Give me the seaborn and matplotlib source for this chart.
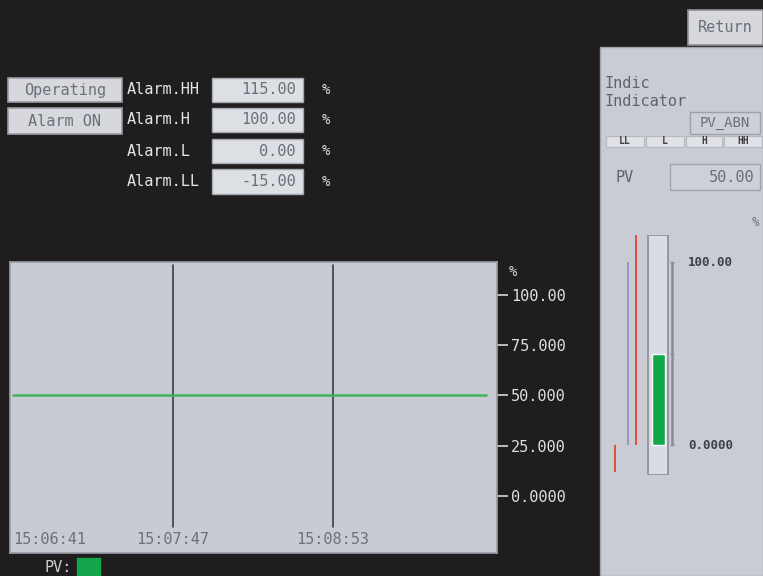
import matplotlib
matplotlib.use("Agg")
import matplotlib.pyplot as plt
from matplotlib.patches import Rectangle
import seaborn as sns
import pandas as pd

# ---------------- data ----------------
alarm_names = ["Alarm.HH", "Alarm.H", "Alarm.L", "Alarm.LL"]
alarm_values = [115.0, 100.0, 0.0, -15.0]
status_buttons = ["Operating", "Alarm ON"]
pv_value = 50.0

time_labels = ["15:06:41", "15:07:47", "15:08:53"]
pv_times = ["15:06:41", "15:07:14", "15:07:47", "15:08:20", "15:08:53", "15:09:26", "15:09:56"]
pv_values = [50.0, 50.0, 50.0, 50.0, 50.0, 50.0, 50.0]
y_ticks = [0, 25, 50, 75, 100]
y_tick_labels = ["0.0000", "25.000", "50.000", "75.000", "100.00"]
level_cells = ["LL", "L", "H", "HH"]

# ---------------- style ----------------
sns.set_theme(style="white")
plt.rcParams["font.family"] = ["DejaVu Sans Mono", "DejaVu Sans"]

W, H = 763, 576
BG = "#1f1d1e"
PANEL = "#c9ccd4"
BTN = "#d6d8dd"
GRAYTXT = "#6c6f77"
GREEN = "#14a64a"

fig = plt.figure(figsize=(W / 100, H / 100), dpi=100, facecolor=BG)


def box(x0, y0, x1, y1, fc, ec=None, lw=1.0, z=1):
    fig.add_artist(Rectangle((x0 / W, 1 - y1 / H), (x1 - x0) / W, (y1 - y0) / H,
                             transform=fig.transFigure, facecolor=fc,
                             edgecolor=ec if ec else fc, lw=lw, zorder=z))


def txt(x, y, s, **kw):
    kw.setdefault("va", "center")
    kw.setdefault("fontsize", 11)
    fig.text(x / W, 1 - y / H, s, **kw)


# ---------------- top-left status / alarm settings ----------------
btn_rows = [(78, 102), (108, 134)]
for name, (y0, y1) in zip(status_buttons, btn_rows):
    box(8, y0, 122, y1, BTN, "#9a9ca3", 1.2)
    txt(65, (y0 + y1) / 2, name, ha="center", color=GRAYTXT)

val_rows = [(78, 102), (108, 132), (139, 163), (169, 194)]
for name, val, (y0, y1) in zip(alarm_names, alarm_values, val_rows):
    yc = (y0 + y1) / 2
    txt(127, yc, name, ha="left", color="#e6e6e6")
    box(212, y0, 303, y1, "#dcdfe4", "#a5a8ae", 1.0)
    txt(296, yc, f"{val:.2f}", ha="right", color=GRAYTXT)
    txt(326, yc, "%", ha="center", color="#e6e6e6", fontsize=10)

# ---------------- trend chart ----------------
ax = fig.add_axes([10 / W, 1 - 553 / H, 487 / W, 291 / H])
ax.set_facecolor("#c8cbd3")

t_ref = pd.to_datetime(time_labels[0], format="%H:%M:%S")
secs = [(pd.to_datetime(t, format="%H:%M:%S") - t_ref).total_seconds() for t in pv_times]
grid_secs = [(pd.to_datetime(t, format="%H:%M:%S") - t_ref).total_seconds() for t in time_labels]
df = pd.DataFrame({"t": secs, "pv": pv_values})

sns.lineplot(data=df, x="t", y="pv", ax=ax, color="#3fb25c", linewidth=1.8, legend=False)

ax.set_xlim(-1.2, 199.7)
ax.set_ylim(-28.4, 116.4)
for g in grid_secs[1:]:
    ax.axvline(g, ymin=0.09, ymax=0.99, color="#3c3c40", lw=1.2, zorder=1)

for i, (g, lab) in enumerate(zip(grid_secs, time_labels)):
    ax.text(g, 0.045, lab, transform=ax.get_xaxis_transform(),
            ha="left" if i == 0 else "center", va="center",
            color="#6d7078", fontsize=11)

ax.set_xticks([])
ax.set_xlabel("")
ax.set_ylabel("")
ax.yaxis.tick_right()
ax.set_yticks(y_ticks)
ax.set_yticklabels(y_tick_labels)
ax.tick_params(axis="y", right=True, length=8, width=1.2, color="#d8d8d8",
               labelcolor="#e0e0e0", labelsize=11, pad=2, direction="out")
for sp in ax.spines.values():
    sp.set_color("#9a9da5")
    sp.set_linewidth(1.2)
txt(513, 272, "%", ha="center", color="#e0e0e0", fontsize=10)

# legend-like label
txt(45, 567, "PV:", ha="left", color="#d0d0d0")
box(77, 558, 100, 576, GREEN)

# ---------------- right panel ----------------
box(600, 47, 763, 576, PANEL, "#9fa2a9", 1.0, z=0)
box(688, 10, 763, 45, BTN, "#8e9097", 1.2)
txt(725, 28, "Return", ha="center", color=GRAYTXT)

txt(605, 83, "Indic", ha="left", color="#5f626a")
txt(605, 102, "Indicator", ha="left", color="#5f626a")
box(690, 112, 760, 134, "#cdd0d6", "#9ea1a8", 1.0)
txt(725, 123, "PV_ABN", ha="center", color=GRAYTXT, fontsize=10)

cell_x = [(605, 645), (645, 685), (685, 723), (723, 763)]
for lab, (x0, x1) in zip(level_cells, cell_x):
    box(x0 + 1, 136, x1 - 1, 147, "#dfe1e6", "#b5b8be", 0.8)
    txt((x0 + x1) / 2, 141.5, lab, ha="center", color="#3f4147", fontsize=7, fontweight="bold")

txt(625, 177, "PV", ha="center", color="#5f626a")
box(670, 164, 760, 190, "#cdd0d6", "#a0a3aa", 1.0)
txt(755, 177, f"{pv_value:.2f}", ha="right", color=GRAYTXT)
txt(755, 222, "%", ha="center", color="#6a6d75", fontsize=9)

# bar gauge
gx = fig.add_axes([610 / W, 1 - 475 / H, 70 / W, 240 / H])
gx.set_facecolor("none")
gx.add_patch(Rectangle((-0.5, -16.4), 1.0, 131.4, facecolor="#d9dce3",
                       edgecolor="#8a8d95", lw=1.2, zorder=0))
sns.barplot(x=["PV"], y=[pv_value], ax=gx, color=GREEN, width=0.65,
            saturation=1, zorder=2)
gx.set_xlim(-2.4, 1.1)
gx.set_ylim(-16.4, 115)
gx.axis("off")

hh, h, l, ll = alarm_values
gx.vlines(-1.1, l, hh, color="#e0452f", lw=1.3, zorder=1)
gx.vlines(-1.5, l, h, color="#9095b8", lw=1.3, zorder=1)
gx.vlines(-2.15, ll, l, color="#e0452f", lw=1.3, zorder=1)
gx.vlines(0.7, l, h, color="#8a8d95", lw=1.8, zorder=1, clip_on=False)
for v in (l, pv_value, h):
    gx.hlines(v, 0.62, 0.78, color="#8a8d95", lw=1.0, clip_on=False)
gx.text(1.5, h, "100.00", ha="left", va="center", color="#3f4147",
        fontsize=9, fontweight="bold", clip_on=False)
gx.text(1.5, l, "0.0000", ha="left", va="center", color="#3f4147",
        fontsize=9, fontweight="bold", clip_on=False)

fig.savefig("out.png", dpi=100, facecolor=BG)
